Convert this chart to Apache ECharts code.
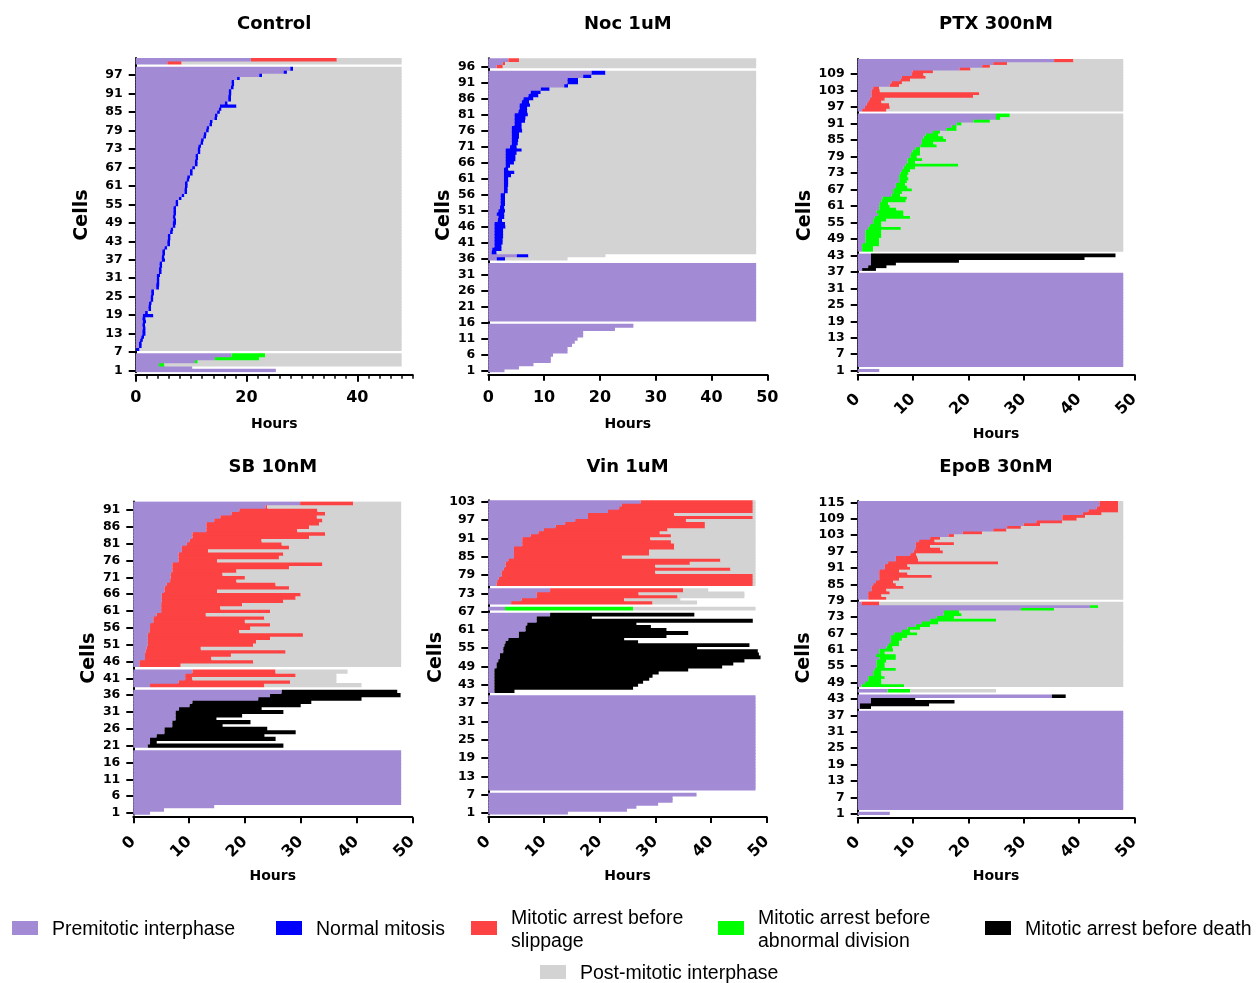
<!DOCTYPE html>
<html>
<head>
<meta charset="utf-8">
<title>Cell fate profiles</title>
<script src="https://cdn.jsdelivr.net/npm/echarts@6/dist/echarts.min.js"></script>
<style>
  html, body { margin: 0; padding: 0; background: #fff; }
  #chart { width: 1260px; height: 983px; }
</style>
</head>
<body>
<div id="chart"></div>
<script>
// one row per cell, bottom to top
// ['p', a]        premitotic interphase 0 -> a, then nothing
// ['x']           empty spacer row
// [k, a, b, c]    premitotic 0 -> a, mitosis a -> b, post-mitotic b -> c (k: n normal, s slippage, a abnormal, d death)
const ctrlRows = [
  ['p',25.3],['p',10.2],['a',4.2,5.2,48],['a',10.7,11.2,48],['a',14.3,22.3,48],['a',17.3,23.4,48],
  ['x'],
  ['n',0.1,0.7,48],['n',0.6,1.1,48],['n',0.6,1.1,48],['n',0.8,1.3,48],['n',1.0,1.5,48],
  ['n',1.2,1.8,48],['n',1.2,1.8,48],['n',1.3,1.8,48],['n',1.2,1.7,48],['n',1.3,1.9,48],['n',1.2,1.8,48],['n',1.3,3.2,48],
  ['n',1.7,2.2,48],['n',2.3,2.8,48],['n',2.3,2.8,48],['n',2.4,2.9,48],['n',2.7,3.2,48],['n',2.7,3.2,48],['n',2.8,3.3,48],['n',2.8,3.3,48],
  ['n',3.7,4.2,48],['n',3.7,4.3,48],['n',3.8,4.3,48],['n',3.8,4.3,48],['n',3.8,4.4,48],
  ['n',4.2,4.7,48],['n',4.2,4.7,48],['n',4.3,4.8,48],['n',4.3,4.8,48],
  ['n',4.7,5.3,48],['n',4.7,5.2,48],['n',4.8,5.3,48],['n',4.8,5.3,48],['n',5.2,5.7,48],
  ['n',5.7,6.2,48],['n',5.7,6.2,48],['n',5.8,6.3,48],['n',5.8,6.3,48],['n',6.2,6.7,48],['n',6.3,6.8,48],
  ['n',6.7,7.2,48],['n',6.7,7.3,48],['n',6.8,7.3,48],['n',6.7,7.2,48],['n',6.8,7.3,48],['n',6.8,7.3,48],['n',6.8,7.3,48],
  ['n',7.2,7.7,48],['n',7.2,7.7,48],['n',7.8,8.3,48],['n',8.3,8.8,48],
  ['n',8.8,9.3,48],['n',8.8,9.3,48],['n',8.9,9.4,48],['n',8.9,9.4,48],['n',9.2,9.7,48],['n',9.3,9.8,48],
  ['n',9.8,10.3,48],['n',9.8,10.3,48],['n',10.2,10.7,48],
  ['n',10.7,11.2,48],['n',10.7,11.2,48],['n',10.8,11.3,48],['n',10.8,11.3,48],
  ['n',11.2,11.7,48],['n',11.2,11.7,48],['n',11.3,11.8,48],['n',11.7,12.2,48],['n',11.8,12.3,48],
  ['n',12.2,12.7,48],['n',12.3,12.8,48],['n',12.7,13.2,48],['n',12.8,13.3,48],['n',13.3,13.8,48],['n',13.4,13.9,48],
  ['n',14.2,14.7,48],['n',14.3,14.8,48],['n',14.7,15.2,48],['n',15.0,15.5,48],['n',15.2,18.2,48],
  ['n',16.1,16.6,48],['n',16.7,17.2,48],['n',16.7,17.2,48],['n',16.8,17.3,48],['n',16.8,17.3,48],
  ['n',17.2,17.7,48],['n',17.3,17.8,48],['n',17.3,17.8,48],['n',18.3,18.8,48],
  ['n',22.3,22.8,48],['n',26.7,27.3,48],['n',27.9,28.4,48],
  ['x'],
  ['s',5.7,8.3,48],['s',20.8,36.3,48]
];

const nocRows = [
  ['p',2.9],['p',5.5],['p',8.1],['p',11.2],['p',11.2],['p',11.6],['p',14.2],['p',14.2],
  ['p',15.0],['p',15.5],['p',16.0],['p',17.0],['p',17.0],['p',22.7],['p',26.0],
  ['x'],
  ['p',48],['p',48],['p',48],['p',48],['p',48],['p',48],['p',48],['p',48],['p',48],
  ['p',48],['p',48],['p',48],['p',48],['p',48],['p',48],['p',48],['p',48],['p',48],
  ['x'],
  ['n',1.5,3.0,14.2],['n',5.1,7.2,21.0],['n',0.6,1.5,48],['n',0.7,2.4,48],['n',1.1,2.4,48],
  ['n',1.1,2.6,48],['n',1.1,2.6,48],['n',1.1,2.7,48],['n',1.1,2.7,48],['n',1.1,2.7,48],
  ['n',1.1,3.1,48],['n',1.1,3.0,48],['n',1.7,2.5,48],['n',1.8,2.9,48],['n',1.5,2.9,48],
  ['n',1.8,3.0,48],['n',2.1,2.9,48],['n',2.2,3.0,48],['n',2.2,3.0,48],['n',2.2,3.0,48],
  ['n',2.2,3.0,48],['n',2.8,3.5,48],['n',2.8,3.5,48],['n',2.8,3.6,48],['n',2.8,3.6,48],
  ['n',2.8,3.6,48],['n',2.8,4.1,48],['n',2.8,4.7,48],['n',2.8,3.6,48],['n',3.1,3.9,48],
  ['n',3.1,4.6,48],['n',3.1,4.9,48],['n',3.1,4.9,48],['n',3.1,5.1,48],['n',3.1,6.0,48],
  ['n',3.9,5.1,48],['n',4.2,5.3,48],['n',4.2,5.4,48],['n',4.2,5.5,48],['n',4.2,5.5,48],
  ['n',4.2,6.1,48],['n',4.2,6.0,48],['n',4.7,6.0,48],['n',4.7,6.6,48],['n',4.7,6.7,48],
  ['n',4.7,7.1,48],['n',5.4,7.0,48],['n',5.6,7.0,48],['n',5.6,7.5,48],['n',6.0,7.3,48],
  ['n',6.3,8.1,48],['n',7.2,9.0,48],['n',7.6,9.4,48],['n',9.4,11.0,48],['n',13.6,14.3,48],
  ['n',14.2,16.1,48],['n',14.2,16.1,48],['n',17.0,18.5,48],['n',18.5,21.0,48],
  ['x'],
  ['s',1.5,2.6,48],['s',2.6,3.0,48],['s',3.6,5.5,48]
];

const ptxRows = [
  ['p',3.9],
  ['x'],
  ['p',48],['p',48],['p',48],['p',48],['p',48],['p',48],['p',48],['p',48],['p',48],['p',48],['p',48],['p',48],
  ['p',48],['p',48],['p',48],['p',48],['p',48],['p',48],['p',48],['p',48],['p',48],['p',48],['p',48],['p',48],
  ['p',48],['p',48],['p',48],['p',48],['p',48],['p',48],['p',48],['p',48],['p',48],['p',48],
  ['x'],
  ['d',0.8,3.3],['d',1.9,5.2],['d',2.4,6.9],['d',2.4,18.3],['d',2.4,41.0],['d',2.4,46.6],
  ['x'],
  ['a',0.8,2.8,48],['a',0.8,2.8,48],['a',0.8,3.9,48],['a',1.4,3.9,48],['a',1.4,3.9,48],
  ['a',1.4,4.3,48],['a',1.4,4.3,48],['a',1.4,4.3,48],['a',1.9,7.8,48],['a',2.2,4.3,48],
  ['a',2.8,4.3,48],['a',2.8,5.2,48],['a',3.1,9.5,48],['a',3.7,8.3,48],['a',3.4,8.3,48],
  ['a',3.9,7.0,48],['a',3.9,5.8,48],['a',4.0,5.5,48],['a',4.3,8.7,48],['a',4.5,8.9,48],
  ['a',6.1,7.7,48],['a',6.4,8.0,48],['a',6.4,9.8,48],['a',6.9,9.0,48],['a',6.9,8.6,48],
  ['a',7.5,8.9,48],['a',7.5,9.2,48],['a',7.5,9.0,48],['a',7.7,9.2,48],['a',8.0,9.5,48],
  ['a',8.3,10.4,48],['a',8.6,18.2,48],['a',9.0,10.4,48],['a',9.0,11.7,48],['a',9.5,10.7,48],
  ['a',9.6,11.3,48],['a',9.9,11.3,48],['a',10.4,11.3,48],['a',11.3,14.3,48],['a',11.6,13.7,48],
  ['a',11.6,16.0,48],['a',11.9,15.5,48],['a',12.3,14.6,48],['a',13.6,14.9,48],['a',16.0,17.9,48],
  ['a',17.0,17.9,48],['a',17.9,18.8,48],['a',20.9,23.9,48],['a',25.0,25.8,48],['a',25.0,27.5,48],
  ['x'],
  ['s',0.8,5.2,48],['s',1.3,5.8,48],['s',1.6,5.7,48],['s',1.9,4.3,48],['s',2.2,4.9,48],
  ['s',2.5,20.9,48],['s',2.5,22.0,48],['s',2.5,4.0,48],['s',2.8,3.9,48],['s',5.8,7.5,48],
  ['s',6.1,8.0,48],['s',7.7,9.5,48],['s',8.0,12.3,48],['s',9.8,11.9,48],['s',9.9,13.6,48],
  ['s',18.4,20.4,48],['s',22.5,23.9,48],['s',24.5,27.0,48],['s',35.5,39.0,48]
];

const sbRows = [
  ['p',3.0],['p',5.5],['p',14.5],
  ['p',48],['p',48],['p',48],['p',48],['p',48],['p',48],['p',48],['p',48],
  ['p',48],['p',48],['p',48],['p',48],['p',48],['p',48],['p',48],['p',48],
  ['x'],
  ['d',2.6,26.9],['d',3.0,4.2],['d',3.0,25.5],['d',4.2,23.5],['d',5.6,29.1],['d',5.6,24.0],
  ['d',7.0,16.0],['d',7.0,21.0],['d',7.6,14.9],['d',7.6,19.5],['d',7.6,26.9],['d',8.2,23.0],
  ['d',10.1,30.0],['d',10.6,31.9],['d',22.4,40.9],['d',24.5,47.9],['d',26.6,47.3],
  ['x'],
  ['s',3.0,23.5,40.9],['s',8.1,28.1,36.4],['s',9.3,10.6,36.4],['s',9.3,29.1,36.4],['s',10.6,25.5,38.4],
  ['x'],
  ['s',1.1,8.5,48],['s',1.1,21.5,48],['s',2.1,14.0,48],['s',2.1,17.5,48],['s',2.2,27.3,48],
  ['s',2.4,12.1,48],['s',2.6,21.5,48],['s',2.6,22.0,48],['s',2.6,24.5,48],['s',2.6,30.4,48],
  ['s',2.9,19.0,48],['s',3.0,21.0,48],['s',3.0,24.5,48],['s',3.6,20.0,48],['s',3.6,23.5,48],
  ['s',4.2,13.0,48],['s',5.0,24.5,48],['s',5.0,15.6,48],['s',5.0,19.5,48],['s',5.1,26.9,48],
  ['s',5.1,29.1,48],['s',5.1,30.0,48],['s',5.6,15.0,48],['s',5.6,27.9,48],['s',6.0,25.5,48],
  ['s',6.6,18.5,48],['s',6.7,20.0,48],['s',6.7,16.0,48],['s',7.0,18.5,48],['s',7.0,27.9,48],
  ['s',7.0,33.9,48],['s',8.1,15.0,48],['s',8.1,26.1,48],['s',8.1,26.9,48],['s',8.7,13.4,48],
  ['s',8.7,27.9,48],['s',9.6,26.6,48],['s',10.1,23.0,48],['s',10.6,31.5,48],['s',10.6,34.4,48],
  ['s',13.1,29.4,48],['s',13.1,31.5,48],['s',13.1,33.3,48],['s',14.5,33.9,48],['s',15.6,32.9,48],
  ['s',17.6,34.4,48],['s',19.0,33.0,48],['s',23.7,24.0,48],['s',29.9,39.4,48]
];

const vinRows = [
  ['p',14.3],['p',24.9],['p',26.6],['p',30.5],['p',33.1],['p',33.1],['p',37.4],
  ['x'],
  ['p',48],['p',48],['p',48],['p',48],['p',48],['p',48],['p',48],['p',48],['p',48],['p',48],['p',48],
  ['p',48],['p',48],['p',48],['p',48],['p',48],['p',48],['p',48],['p',48],['p',48],['p',48],['p',48],
  ['p',48],['p',48],['p',48],['p',48],['p',48],['p',48],['p',48],['p',48],['p',48],
  ['x'],
  ['d',1.1,4.7],['d',1.1,26.0],['d',1.1,26.9],['d',1.1,27.8],['d',1.1,28.9],['d',1.1,29.5],
  ['d',1.1,30.6],['d',1.1,35.9],['d',1.5,42.0],['d',1.5,44.0],['d',1.8,46.0],['d',2.1,48.9],
  ['d',2.1,48.6],['d',2.7,48.4],['d',2.7,37.5],['d',2.9,46.9],['d',3.1,26.9],['d',3.6,24.4],
  ['d',5.5,32.0],['d',5.5,35.9],['d',6.7,32.0],['d',6.7,29.2],['d',7.0,26.6],['d',8.7,47.5],
  ['d',8.7,18.6],['d',11.1,37.0],
  ['x'],
  ['a',3.0,26.0,48],
  ['x'],
  ['s',4.1,29.5,37.5],['s',6.0,24.4,34.5],['s',8.7,34.0,46.0],['s',8.7,27.0,46.0],['s',11.1,35.0,39.5],
  ['x'],
  ['s',1.5,47.5,48],['s',1.6,47.5,48],['s',1.9,47.5,48],['s',2.4,47.5,48],['s',2.4,30.0,48],
  ['s',2.8,43.5,48],['s',3.1,30.0,48],['s',3.1,36.2,48],['s',3.6,41.7,48],['s',4.6,24.0,48],
  ['s',4.6,28.9,48],['s',4.6,28.9,48],['s',4.6,33.4,48],['s',6.1,33.4,48],['s',6.1,32.8,48],
  ['s',6.1,29.1,48],['s',7.6,32.8,48],['s',9.0,30.8,48],['s',10.0,32.2,48],['s',12.1,38.9,48],
  ['s',13.8,38.9,48],['s',15.6,35.5,48],['s',17.9,47.5,48],['s',17.9,33.4,48],['s',21.5,47.5,48],
  ['s',23.5,47.5,48],['s',24.0,47.5,48],['s',27.4,47.5,48]
];

const epoRows = [
  ['p',5.8],
  ['x'],
  ['p',48],['p',48],['p',48],['p',48],['p',48],['p',48],['p',48],['p',48],['p',48],['p',48],['p',48],['p',48],
  ['p',48],['p',48],['p',48],['p',48],['p',48],['p',48],['p',48],['p',48],['p',48],['p',48],['p',48],['p',48],
  ['p',48],['p',48],['p',48],['p',48],['p',48],['p',48],['p',48],['p',48],['p',48],['p',48],['p',48],['p',48],
  ['x'],
  ['d',0.4,2.4],['d',0.4,12.9],['d',2.4,17.5],['d',2.4,10.4],['d',35.1,37.6],
  ['x'],
  ['a',5.4,9.5,25.0],
  ['x'],
  ['a',0.7,8.4,48],['a',1.3,4.3,48],['a',1.9,4.3,48],['a',1.9,4.9,48],['a',2.8,4.3,48],
  ['a',2.8,4.3,48],['a',3.1,6.9,48],['a',3.4,4.9,48],['a',3.4,4.9,48],['a',3.4,5.2,48],
  ['a',3.9,6.9,48],['a',3.3,6.9,48],['a',3.9,4.9,48],['a',3.9,6.4,48],['a',5.2,6.3,48],
  ['a',5.5,7.5,48],['a',6.0,7.5,48],['a',6.0,8.0,48],['a',6.0,9.0,48],['a',6.6,10.8,48],
  ['a',8.0,9.5,48],['a',9.0,11.3,48],['a',10.5,13.1,48],['a',11.6,14.6,48],['a',13.1,25.0,48],
  ['a',14.3,17.4,48],['a',15.5,18.8,48],['a',15.6,18.4,48],
  ['a',29.5,35.5,48],['a',42.0,43.5,48],['s',0.7,3.9,48],
  ['x'],
  ['s',1.9,5.2,48],['s',1.9,4.3,48],['s',1.9,5.8,48],['s',2.5,5.2,48],['s',2.5,8.3,48],
  ['s',2.8,6.9,48],['s',3.3,6.4,48],['s',3.9,7.5,48],['s',3.9,13.4,48],['s',3.9,9.0,48],
  ['s',3.9,7.5,48],['s',4.9,9.5,48],['s',4.9,9.0,48],['s',5.5,25.4,48],['s',6.9,10.9,48],
  ['s',6.9,10.8,48],['s',9.5,10.6,48],['s',10.1,15.4,48],['s',10.4,14.9,48],['s',10.5,13.1,48],
  ['s',10.5,17.4,48],['s',11.1,13.9,48],['s',13.1,14.9,48],['s',16.4,17.4,48],['s',19.0,22.5,48],
  ['s',24.5,26.9,48],['s',27.0,29.5,48],['s',30.0,33.0,48],['s',32.3,37.0,48],['s',37.0,39.6,48],
  ['s',37.0,41.1,48],['s',40.7,44.1,48],['s',41.7,47.1,48],['s',43.2,47.1,48],['s',43.7,47.1,48],
  ['s',43.7,47.1,48]
];

const panelRows = [ctrlRows, nocRows, ptxRows, sbRows, vinRows, epoRows];
const titles = ['Control', 'Noc 1uM', 'PTX 300nM', 'SB 10nM', 'Vin 1uM', 'EpoB 30nM'];
const fateNames = ['Premitotic interphase', 'Normal mitosis', 'Mitotic arrest before\nslippage',
  'Mitotic arrest before\nabnormal division', 'Mitotic arrest before death', 'Post-mitotic interphase'];
const fateColors = ['#A38AD4', '#0000FF', '#FC4242', '#00FF00', '#000000', '#D3D3D3'];
const kindIndex = { n: 1, s: 2, a: 3, d: 4 };

// panel placement (pixels)
const layout = [
  { left: 135.7, top: 58,    width: 277,   height: 314.2, every: 6, step: 20, rot: 0,  cellsGap: 43, hoursGap: 43 },
  { left: 488.3, top: 58.3,  width: 279,   height: 314,   every: 5, step: 10, rot: 0,  cellsGap: 34, hoursGap: 43 },
  { left: 857.7, top: 59,    width: 276.6, height: 313.1, every: 6, step: 10, rot: 45, cellsGap: 41, hoursGap: 53 },
  { left: 133.3, top: 501.6, width: 279,   height: 313.1, every: 5, step: 10, rot: 45, cellsGap: 33, hoursGap: 52 },
  { left: 488.3, top: 500.3, width: 278.4, height: 314.2, every: 6, step: 10, rot: 45, cellsGap: 42, hoursGap: 52 },
  { left: 857.7, top: 501,   width: 276.6, height: 314,   every: 6, step: 10, rot: 45, cellsGap: 43, hoursGap: 52 }
];
const legendPos = [[12, 921], [276, 921], [471, 921], [718, 921], [985, 921], [540, 965]];

const boldFont = 'DejaVu Sans';

// turn each row into [rowIndex, from, to, fateIndex] pieces
function segments (rows) {
  const segs = [];
  rows.forEach((r, y) => {
    const k = r[0];
    if (k === 'x') return;
    segs.push([y, 0, r[1], 0]);
    if (k === 'p') return;
    segs.push([y, r[1], r[2], kindIndex[k]]);
    const end = r.length > 3 ? r[3] : r[2];
    if (end > r[2]) segs.push([y, r[2], end, 5]);
  });
  return segs;
}

// a row-high rect between two hours; slightly taller than the band so rows join without seams
function renderSeg (params, api) {
  const y = api.value(0);
  const a = api.coord([api.value(1), y]);
  const b = api.coord([api.value(2), y]);
  const h = api.size([0, 1])[1];
  return {
    type: 'rect',
    shape: { x: a[0], y: a[1] - h / 2 - 0.4, width: b[0] - a[0], height: h + 0.8 },
    style: { fill: fateColors[api.value(3)] }
  };
}

const grids = [], xAxes = [], yAxes = [], series = [], titleList = [];

panelRows.forEach((rows, i) => {
  const L = layout[i];
  const cats = rows.map((r, j) => String(j + 1));
  grids.push({ left: L.left, top: L.top, width: L.width, height: L.height, containLabel: false });

  const xa = {
    type: 'value', gridIndex: i, min: 0, max: 50, interval: L.step, offset: 2.5,
    axisLine: { show: true, lineStyle: { color: '#000', width: 2 } },
    axisTick: { show: true, length: 6, lineStyle: { color: '#000', width: 2 } },
    splitLine: { show: false },
    axisLabel: {
      rotate: L.rot, margin: L.rot ? 22 : 15, color: '#000',
      fontFamily: boldFont, fontWeight: 'bold', fontSize: 16
    },
    name: 'Hours', nameLocation: 'middle', nameGap: L.hoursGap,
    nameTextStyle: { color: '#000', fontFamily: boldFont, fontWeight: 'bold', fontSize: 14 }
  };
  if (L.step === 20) {
    xa.axisLabel.formatter = v => (v % 20 === 0 ? String(v) : '');
    xa.axisTick.customValues = [0, 20, 40];
    xa.axisTick.length = 7;
  }
  xAxes.push(xa);

  yAxes.push({
    type: 'category', gridIndex: i, data: cats, offset: 1,
    axisLine: { show: true, lineStyle: { color: '#000', width: 2 } },
    axisTick: { show: true, alignWithLabel: true, interval: L.every - 1, length: 7, lineStyle: { color: '#000', width: 2 } },
    axisLabel: {
      interval: L.every - 1, margin: 12, color: '#000',
      fontFamily: boldFont, fontWeight: 'bold', fontSize: 12.5
    },
    splitLine: { show: false },
    name: 'Cells', nameLocation: 'middle', nameGap: L.cellsGap,
    nameTextStyle: { color: '#000', fontFamily: boldFont, fontWeight: 'bold', fontSize: 19 }
  });

  titleList.push({
    text: titles[i], left: L.left + L.width / 2 - 5, top: i < 3 ? 10 : 453, textAlign: 'center',
    textStyle: { color: '#000', fontFamily: boldFont, fontWeight: 'bold', fontSize: 18 }
  });

  series.push({
    type: 'custom', name: titles[i], xAxisIndex: i, yAxisIndex: i,
    renderItem: renderSeg, data: segments(rows),
    encode: { x: [1, 2], y: 0 }, clip: true, silent: true, animation: false
  });
});

// minor hour ticks on the Control axis
xAxes.push({
  type: 'value', gridIndex: 0, min: 0, max: 50, interval: 2, offset: 2.5, position: 'bottom',
  axisLine: { show: false }, axisLabel: { show: false }, splitLine: { show: false },
  axisTick: { show: true, length: 4, lineStyle: { color: '#000', width: 1.5 } }
});

// legend drawn by hand
const legendItems = [];
fateNames.forEach((name, j) => {
  const [x, y] = legendPos[j];
  legendItems.push({
    type: 'rect', shape: { x: x, y: y, width: 26, height: 14 },
    style: { fill: fateColors[j] }, silent: true
  });
  legendItems.push({
    type: 'text', x: x + 40, y: y + 9,
    style: {
      text: name, fill: '#000', font: '19.5px "Liberation Sans", Arial, sans-serif',
      verticalAlign: 'middle', align: 'left', lineHeight: 23
    },
    silent: true
  });
});

const chart = echarts.init(document.getElementById('chart'));
chart.setOption({
  animation: false,
  backgroundColor: '#fff',
  title: titleList,
  grid: grids,
  xAxis: xAxes,
  yAxis: yAxes,
  series: series,
  graphic: legendItems
});
</script>
</body>
</html>
